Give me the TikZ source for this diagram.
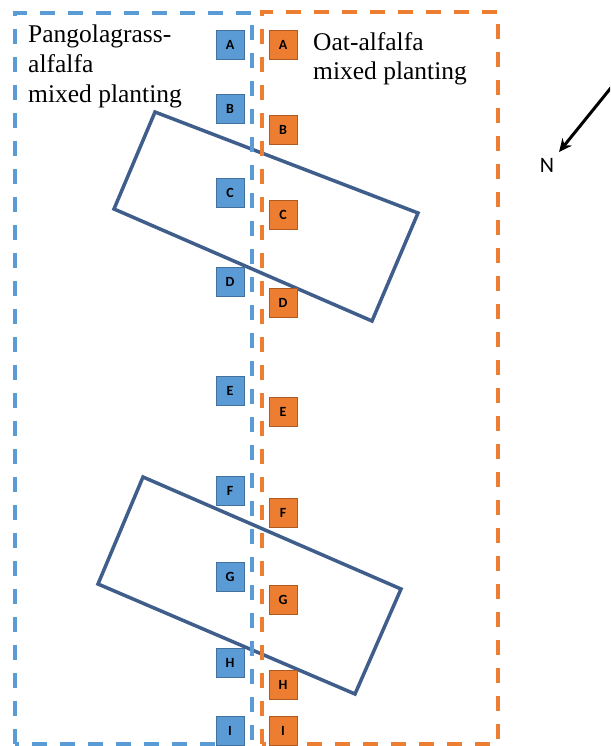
\documentclass[tikz,border=0pt]{standalone}
\usepackage{fontspec}
\setmainfont{Liberation Serif}
\newfontfamily\calib{Carlito}
\usetikzlibrary{arrows.meta}
\definecolor{sqblue}{HTML}{5B9BD5}
\definecolor{sqblueb}{HTML}{41719C}
\definecolor{sqorange}{HTML}{ED7D31}
\definecolor{sqorangeb}{HTML}{AE5A21}
\definecolor{plotline}{HTML}{3F5E8C}
\tikzset{
  bsq/.style={draw=sqblueb, fill=sqblue, line width=1pt, minimum width=28pt, minimum height=28.5pt, inner sep=0pt, font=\calib\bfseries\fontsize{14}{14}\selectfont},
  osq/.style={draw=sqorangeb, fill=sqorange, line width=1pt, minimum width=28pt, minimum height=28.5pt, inner sep=0pt, font=\calib\bfseries\fontsize{14}{14}\selectfont},
  zoneblue/.style={draw=sqblue, line width=3.4pt, dash pattern=on 15pt off 13pt},
  zoneorange/.style={draw=sqorange, line width=3.4pt, dash pattern=on 15pt off 13pt},
  plotrect/.style={draw=plotline, line width=3.5pt, line join=miter},
  zonelabel/.style={align=left, anchor=north west, inner sep=0pt, font=\fontsize{25.5}{29.8}\selectfont},
}
\begin{document}
\begin{tikzpicture}[x=1pt,y=-1pt]
\clip (0,0) rectangle (610,746);
\fill[white] (0,0) rectangle (610,746);
% plots
\draw[plotrect] (155,112) -- (418,213) -- (372,321) -- (114,209) -- cycle;
\draw[plotrect] (143,477) -- (401,589) -- (355,694) -- (98,584) -- cycle;
% zones
\draw[zoneblue] (15,744) -- (15,13) -- (252,13) -- (252,744) -- cycle;
\draw[zoneorange] (262,744) -- (262,12) -- (498,12) -- (498,744) -- cycle;
% blue squares
\node[bsq] (bA) at (230,45) {A};
\node[bsq] (bB) at (230,109) {B};
\node[bsq] (bC) at (230,193) {C};
\node[bsq] (bD) at (230,282) {D};
\node[bsq] (bE) at (230,391) {E};
\node[bsq] (bF) at (230,491) {F};
\node[bsq] (bG) at (230,577) {G};
\node[bsq] (bH) at (230,663) {H};
\node[bsq] (bI) at (230,731) {I};
% orange squares
\node[osq] (oA) at (283,45) {A};
\node[osq] (oB) at (283,130) {B};
\node[osq] (oC) at (283,215) {C};
\node[osq] (oD) at (283,303) {D};
\node[osq] (oE) at (283,412) {E};
\node[osq] (oF) at (283,513) {F};
\node[osq] (oG) at (283,600) {G};
\node[osq] (oH) at (283,685) {H};
\node[osq] (oI) at (283,731) {I};
% labels
\node[zonelabel] (lblue) at (28,25) {Pangolagrass-\\alfalfa\\mixed planting};
\node[zonelabel] (lorange) at (313,32) {Oat-alfalfa\\mixed planting};
% north arrow
\coordinate (ntail) at (614,84);
\coordinate (ntip) at (559,152);
\draw[line width=3pt, -{Stealth[length=13pt,width=12pt]}] (ntail) -- (ntip);
\node[font=\calib\fontsize{22}{22}\selectfont, inner sep=0pt] (N) at (547,165) {N};
\end{tikzpicture}
\end{document}
